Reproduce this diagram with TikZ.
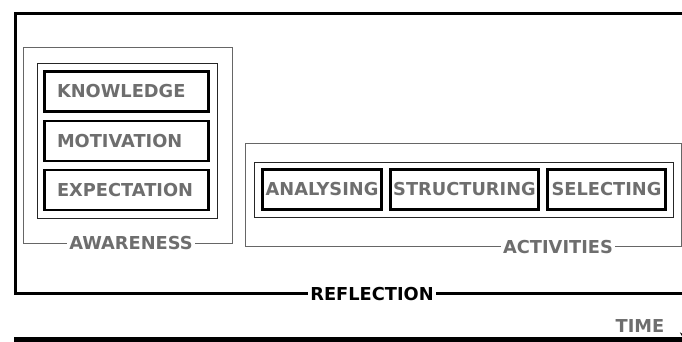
\documentclass[tikz,border=0pt]{standalone}
\usepackage{fontspec}
\setmainfont{DejaVu Sans}
\usepackage{xcolor}
\usetikzlibrary{arrows.meta,positioning}
\definecolor{labelgray}{HTML}{6E6E6E}
\tikzset{
  item/.style={draw=black,line width=2.6pt,fill=white,text=labelgray,
    font=\bfseries\fontsize{17.8}{20}\selectfont,minimum height=40pt,inner sep=0pt},
  lefttext/.style={text width=139pt,align=left,inner xsep=12.5pt},
  frame/.style={draw=black!85,line width=1pt},
  group/.style={draw=black!60,line width=1pt},
  tag/.style={fill=white,inner xsep=2pt,inner ysep=1pt,font=\bfseries\fontsize{17.8}{20}\selectfont}
}

\begin{document}
\begin{tikzpicture}[x=1pt,y=-1pt,line cap=butt,line join=miter]
  \useasboundingbox (0,0) rectangle (682,342);

  % --- Reflection frame (open to the right) ---
  \draw[line width=3pt] (700,13.5) -- (15,13.5) -- (15,293.5) -- (700,293.5);
  \node[tag,text=black] (reflection) at (372,294) {REFLECTION};

  % --- Time line ---
  \coordinate (t0) at (14,339.5);
  \coordinate (t1) at (692,339.5);
  \draw[line width=6pt,-{Stealth[length=12pt,width=14pt]}] (t0) -- (t1);
  \node[text=labelgray,font=\bfseries\fontsize{17.8}{20}\selectfont,inner sep=0pt] (time) at (640,326) {TIME};

  % --- Awareness ---
  \node[group,minimum width=209pt,minimum height=195pt] (awareness) at (127.5,145.5) {};
  \node[frame,minimum width=180pt,minimum height=154pt] (awframe) at (127,141) {};
  \node[item,lefttext,minimum width=164pt] (knowledge) at (126.5,91.5) {KNOWLEDGE};
  \node[item,lefttext,minimum width=164pt] (motivation) at (126.5,141) {MOTIVATION};
  \node[item,lefttext,minimum width=164pt] (expectation) at (126.5,190) {EXPECTATION};
  \node[tag,text=labelgray] (awlabel) at (131,243) {AWARENESS};

  % --- Activities ---
  \node[group,minimum width=436.5pt,minimum height=103pt] (activities) at (463.5,194.5) {};
  \node[frame,minimum width=419pt,minimum height=55pt] (acframe) at (463.5,189.5) {};
  \node[item,minimum width=119pt] (analysing) at (322,189.5) {ANALYSING};
  \node[item,minimum width=148pt] (structuring) at (464.5,189.5) {STRUCTURING};
  \node[item,minimum width=118pt] (selecting) at (606.5,189.5) {SELECTING};
  \node[tag,text=labelgray] (aclabel) at (558,247) {ACTIVITIES};

\end{tikzpicture}
\end{document}
